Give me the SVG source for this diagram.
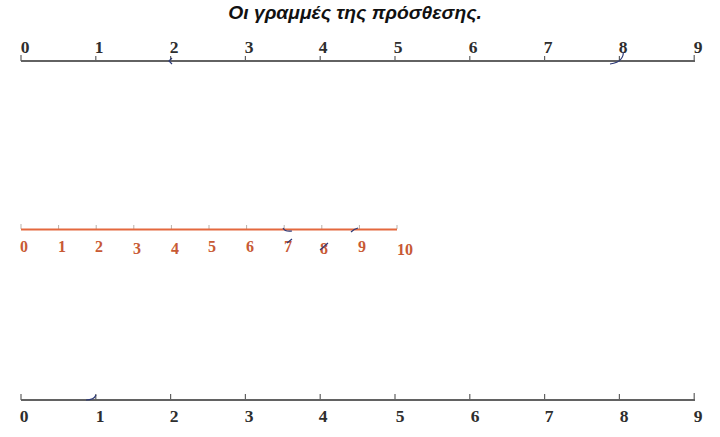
<svg xmlns="http://www.w3.org/2000/svg" width="720" height="437" viewBox="0 0 720 437">
<style>
.title{font-family:"Liberation Sans",Arial,sans-serif;font-weight:bold;font-style:italic;font-size:19.3px;fill:#111;text-anchor:middle}
.axis{stroke:#626262;stroke-width:2;fill:none}
.tick{stroke:#626262;stroke-width:1.2;fill:none}
.num{font-family:"Liberation Serif","Times New Roman",serif;font-weight:bold;font-size:17.5px;fill:#2e2e2e;text-anchor:middle}
.oaxis{stroke:#e4683e;stroke-width:1.8;fill:none}
.otick{stroke:#b9b1ab;stroke-width:1;fill:none}
.onum{font-family:"Liberation Serif","Times New Roman",serif;font-weight:bold;font-size:16px;fill:#c85a34;text-anchor:middle}
.pen{stroke:#2d3a78;stroke-width:1.2;fill:none}
</style>
<rect width="720" height="437" fill="#ffffff"/>
<text class="title" x="355" y="19">Οι γραμμές της πρόσθεσης.</text>

<g id="line-top">
<path class="axis" d="M21 61 H695"/>
<path class="tick" d="M21 55V61M95.8 56V61M170.6 56V61M245.4 56V61M320.2 56V61M395 56V61M469.8 56V61M544.6 56V61M619.4 56V61M694.2 55V61"/>
<text class="num" x="25" y="53">0</text>
<text class="num" x="99" y="53">1</text>
<text class="num" x="174" y="53">2</text>
<text class="num" x="249" y="53">3</text>
<text class="num" x="323" y="53">4</text>
<text class="num" x="398" y="53">5</text>
<text class="num" x="473" y="53">6</text>
<text class="num" x="548" y="53">7</text>
<text class="num" x="623" y="53">8</text>
<text class="num" x="698" y="53">9</text>
<path class="pen" d="M172 58 L169 61 L172 64"/>
<path class="pen" d="M610 64 Q618 63 621 59 Q624 55 623 52"/>
</g>

<g id="line-middle">
<path class="otick" d="M21 224V229M58.6 225V229M96.2 225V229M133.8 225V229M171.4 225V229M209 225V229M246.6 225V229M284.2 225V229M321.8 225V229M359.4 225V229M397 225V229"/>
<path class="oaxis" d="M21 229.5 H397"/>
<text class="onum" x="24" y="252">0</text>
<text class="onum" x="62" y="252">1</text>
<text class="onum" x="99" y="252">2</text>
<text class="onum" x="137" y="254">3</text>
<text class="onum" x="175" y="254">4</text>
<text class="onum" x="212" y="252">5</text>
<text class="onum" x="250" y="252">6</text>
<text class="onum" x="288" y="252">7</text>
<text class="onum" x="324" y="254">8</text>
<text class="onum" x="362" y="252">9</text>
<text class="onum" x="405" y="255">10</text>
<path class="pen" d="M283 228 Q285 232 292 231"/>
<path class="pen" d="M351 232 Q354 229 358 228"/>
<path class="pen" d="M287 243 L292 239"/>
<path class="pen" d="M320 250 L328 243"/>
</g>

<g id="line-bottom">
<path class="axis" d="M21 400 H695"/>
<path class="tick" d="M21 394V400M95.8 394V400M170.6 394V400M245.4 394V400M320.2 394V400M395 394V400M469.8 394V400M544.6 394V400M619.4 394V400M694.2 393V400"/>
<path class="pen" d="M86 400 Q94 400 96 395"/>
<text class="num" x="24" y="422">0</text>
<text class="num" x="100" y="422">1</text>
<text class="num" x="174" y="422">2</text>
<text class="num" x="249" y="422">3</text>
<text class="num" x="323" y="422">4</text>
<text class="num" x="400" y="422">5</text>
<text class="num" x="475" y="422">6</text>
<text class="num" x="549" y="422">7</text>
<text class="num" x="624" y="422">8</text>
<text class="num" x="698" y="422">9</text>
</g>
</svg>
